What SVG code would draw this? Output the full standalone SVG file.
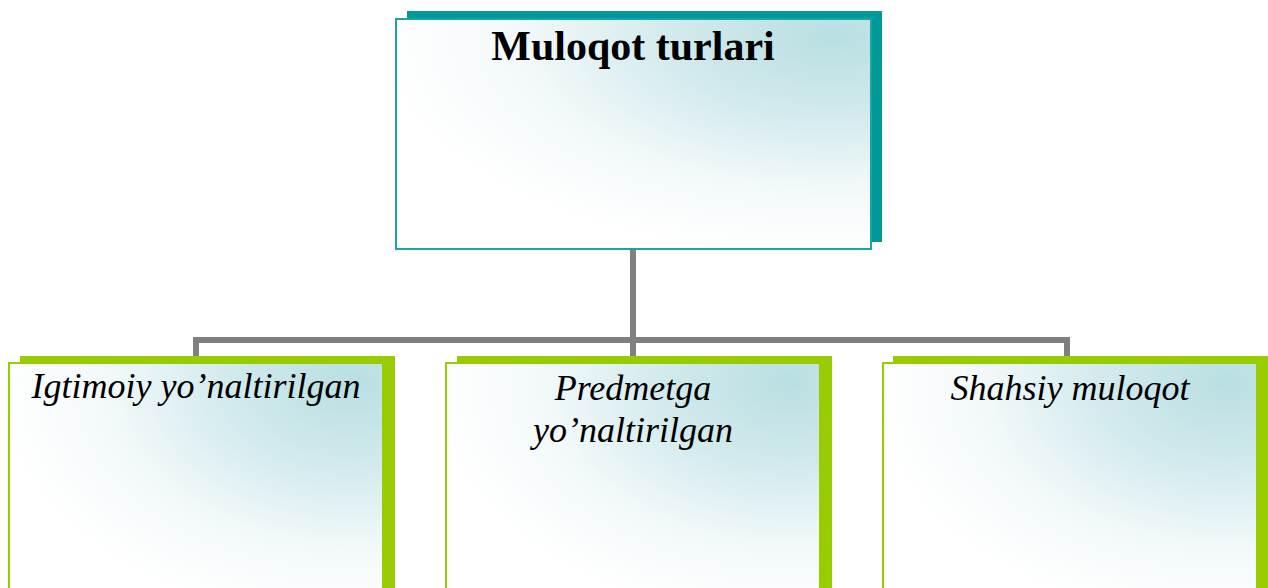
<svg xmlns="http://www.w3.org/2000/svg" width="1268" height="588" viewBox="0 0 1268 588">
<defs>
<radialGradient id="g" cx="0.92" cy="0.08" r="0.95" fx="0.92" fy="0.08">
<stop offset="0" stop-color="#b9dfe2"/>
<stop offset="0.35" stop-color="#d2eaec"/>
<stop offset="0.7" stop-color="#f3f9fa"/>
<stop offset="1" stop-color="#ffffff"/>
</radialGradient>
<style>
.conn{fill:none;stroke:#808080;stroke-width:6}
.tshadow{fill:#009999}
.gshadow{fill:#99cc00}
.tbox{fill:url(#g);stroke:#1aa5a5;stroke-width:2}
.gbox{fill:url(#g);stroke:#99cc00;stroke-width:2}
.title{font-family:"Liberation Serif",serif;font-weight:bold;font-size:42px;fill:#000;text-anchor:middle}
.lbl{font-family:"Liberation Serif",serif;font-style:italic;font-size:36px;fill:#000;text-anchor:middle}
</style>
</defs>
<rect width="1268" height="588" fill="#ffffff"/>
<g id="connectors">
<path class="conn" d="M633 249 V340"/>
<path class="conn" d="M196 356 V340 H1067 V356"/>
<path class="conn" d="M633 340 V356"/>
</g>
<g id="root">
<rect class="tshadow" x="407" y="11" width="475" height="231"/>
<rect class="tbox" x="396" y="19" width="475" height="230"/>
<text class="title" x="633" y="60">Muloqot turlari</text>
</g>
<g id="node-igtimoiy">
<rect class="gshadow" x="20" y="356" width="375" height="250"/>
<rect class="gbox" x="9" y="363" width="374" height="250"/>
<text class="lbl" x="196" y="398">Igtimoiy yo’naltirilgan</text>
</g>
<g id="node-predmetga">
<rect class="gshadow" x="457" y="356" width="375" height="250"/>
<rect class="gbox" x="446" y="363" width="374" height="250"/>
<text class="lbl" x="633" y="400">Predmetga</text>
<text class="lbl" x="633" y="442">yo’naltirilgan</text>
</g>
<g id="node-shahsiy">
<rect class="gshadow" x="893" y="356" width="375" height="250"/>
<rect class="gbox" x="883" y="363" width="374" height="250"/>
<text class="lbl" x="1070" y="400">Shahsiy muloqot</text>
</g>
</svg>
